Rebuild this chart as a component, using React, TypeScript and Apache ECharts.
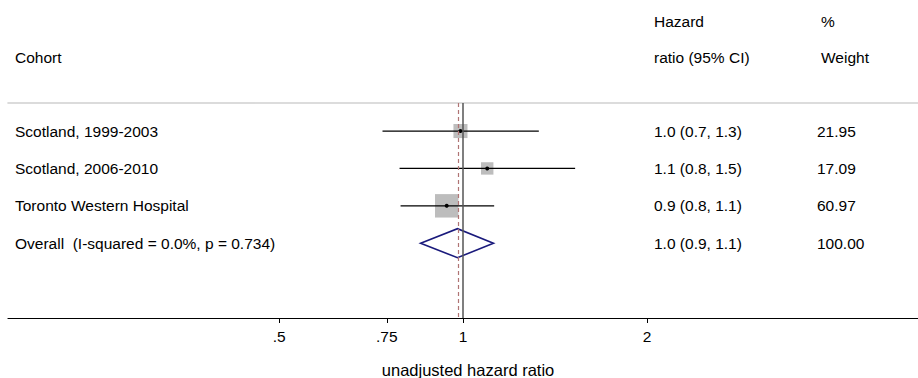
import React, { useEffect, useRef } from "react";
import * as echarts from "echarts";

// ---- data ----
const cohorts = ["Scotland, 1999-2003", "Scotland, 2006-2010", "Toronto Western Hospital"];
const hazardRatios = [0.99, 1.095, 0.94];
const ciLower = [0.738, 0.787, 0.79];
const ciUpper = [1.33, 1.525, 1.124];
const weights = [21.95, 17.09, 60.97];
const ciTexts = ["1.0 (0.7, 1.3)", "1.1 (0.8, 1.5)", "0.9 (0.8, 1.1)"];
const weightTexts = ["21.95", "17.09", "60.97"];

const overallLabel = "Overall  (I-squared = 0.0%, p = 0.734)";
const overallHR = 0.979;
const overallLower = 0.852;
const overallUpper = 1.121;
const overallCiText = "1.0 (0.9, 1.1)";
const overallWeightText = "100.00";

const tickValues = [0.5, 0.75, 1, 2];
const tickLabels = [".5", ".75", "1", "2"];
const axisMin = 0.18;
const axisMax = 5.55;

const FONT = "'Liberation Sans', Arial, Helvetica, sans-serif";
const FS = 15.5;

export default function App() {
  const ref = useRef<HTMLDivElement>(null);
  useEffect(() => {
    if (!ref.current) return;
    const chart = echarts.init(ref.current, null, { renderer: "svg" });

    const studyData = cohorts.map((_, i) => [
      Math.log(hazardRatios[i]),
      i + 1,
      Math.log(ciLower[i]),
      Math.log(ciUpper[i]),
      weights[i],
    ]);
    const overallData = [[Math.log(overallHR), cohorts.length + 1, Math.log(overallLower), Math.log(overallUpper)]];

    const textStyle = (text: string, x: number, y: number) => ({
      type: "text",
      style: {
        text,
        x,
        y,
        fill: "#000",
        font: `${FS}px ${FONT}`,
        textVerticalAlign: "middle",
        verticalAlign: "middle",
        align: "left",
      },
    });

    const option: any = {
      animation: false,
      textStyle: { fontFamily: FONT },
      grid: { left: 8, width: 910, top: 103, height: 215, containLabel: false, outerBoundsMode: "none" },
      xAxis: [
        {
          type: "value",
          min: Math.log(axisMin),
          max: Math.log(axisMax),
          position: "bottom",
          splitLine: { show: false },
          axisLine: { onZero: false, lineStyle: { color: "#000", width: 1.2 } },
          axisTick: {
            customValues: tickValues.map((t) => Math.log(t)),
            length: 5,
            lineStyle: { color: "#000", width: 1 },
          },
          axisLabel: {
            customValues: tickValues.map((t) => Math.log(t)),
            margin: 10,
            color: "#000",
            fontSize: FS,
            fontFamily: FONT,
            formatter: (v: number) => {
              const i = tickValues.findIndex((t) => Math.abs(Math.log(t) - v) < 1e-6);
              return i >= 0 ? tickLabels[i] : "";
            },
          },
          name: "unadjusted hazard ratio",
          nameLocation: "middle",
          nameGap: 43,
          nameTextStyle: { color: "#000", fontSize: 16.5, fontFamily: FONT, padding: [0, 0, 0, 10] },
        },
        {
          type: "value",
          min: Math.log(axisMin),
          max: Math.log(axisMax),
          position: "top",
          splitLine: { show: false },
          axisLine: { onZero: false, lineStyle: { color: "#d0d0d0", width: 1.6 } },
          axisTick: { show: false },
          axisLabel: { show: false },
        },
      ],
      yAxis: {
        type: "value",
        inverse: true,
        min: 0.25,
        max: 6,
        show: false,
        splitLine: { show: false },
      },
      graphic: [
        textStyle("Cohort", 15, 57),
        textStyle("Hazard", 654, 21),
        textStyle("ratio (95% CI)", 654, 57),
        textStyle("%", 821, 21),
        textStyle("Weight", 821, 57),
      ],
      series: [
        {
          type: "line",
          data: [],
          z: 1,
          silent: true,
          markLine: {
            silent: true,
            symbol: "none",
            label: { show: false },
            data: [
              { xAxis: 0, lineStyle: { color: "#555", width: 1.5, type: "solid" } },
              { xAxis: Math.log(overallHR), lineStyle: { color: "#b07474", width: 1.2, type: [4, 3] } },
            ],
          },
        },
        {
          type: "custom",
          z: 3,
          silent: true,
          data: studyData,
          encode: { x: [0, 2, 3], y: 1 },
          renderItem: (params: any, api: any) => {
            const i = params.dataIndex;
            const y = api.value(1);
            const pt = api.coord([api.value(0), y]);
            const lo = api.coord([api.value(2), y]);
            const hi = api.coord([api.value(3), y]);
            const side = 3.0 * Math.sqrt(api.value(4));
            return {
              type: "group",
              children: [
                {
                  type: "rect",
                  shape: { x: pt[0] - side / 2, y: pt[1] - side / 2, width: side, height: side },
                  style: { fill: "#bdbdbd" },
                },
                {
                  type: "line",
                  shape: { x1: lo[0], y1: pt[1], x2: hi[0], y2: pt[1] },
                  style: { stroke: "#000", lineWidth: 1.3 },
                },
                { type: "circle", shape: { cx: pt[0], cy: pt[1], r: 2 }, style: { fill: "#000" } },
                textStyle(cohorts[i], 15, pt[1]),
                textStyle(ciTexts[i], 654, pt[1]),
                textStyle(weightTexts[i], 817, pt[1]),
              ],
            };
          },
        },
        {
          type: "custom",
          z: 3,
          silent: true,
          data: overallData,
          encode: { x: [0, 2, 3], y: 1 },
          renderItem: (params: any, api: any) => {
            const y = api.value(1);
            const pt = api.coord([api.value(0), y]);
            const lo = api.coord([api.value(2), y]);
            const hi = api.coord([api.value(3), y]);
            const h = 14.5;
            return {
              type: "group",
              children: [
                {
                  type: "polygon",
                  shape: {
                    points: [
                      [lo[0], pt[1]],
                      [pt[0], pt[1] - h],
                      [hi[0], pt[1]],
                      [pt[0], pt[1] + h],
                    ],
                  },
                  style: { fill: "none", stroke: "#1a1a7c", lineWidth: 1.6 },
                },
                textStyle(overallLabel, 15, pt[1]),
                textStyle(overallCiText, 654, pt[1]),
                textStyle(overallWeightText, 817, pt[1]),
              ],
            };
          },
        },
      ],
    };
    chart.setOption(option);
    return () => chart.dispose();
  }, []);
  return (
    <div
      ref={ref}
      style={{ position: "fixed", left: 0, top: 0, width: 918, height: 378, background: "#fff" }}
    />
  );
}
